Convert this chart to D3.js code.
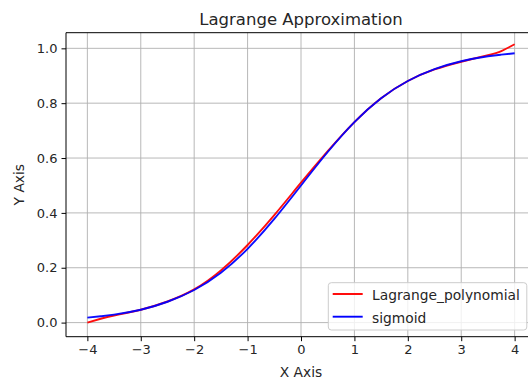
<!DOCTYPE html>
<html>
<head>
<meta charset="utf-8">
<script src="https://cdn.jsdelivr.net/npm/d3@7"></script>
<style>
  html, body { margin: 0; padding: 0; background: #fff; }
  svg { display: block; font-family: "DejaVu Sans", sans-serif; }
</style>
</head>
<body>
<svg id="chart" width="528" height="379"></svg>
<script>
// Sample points along x
const xs = [-4, -3.75, -3.5, -3, -2.5, -2, -1.5, -1, -0.5, 0, 0.5, 1, 1.5, 2, 2.5, 3, 3.5, 3.75, 4];
// Interpolating polynomial values
const lagrangeValues = [0.000, 0.014, 0.026, 0.047, 0.077, 0.121, 0.190, 0.283, 0.392, 0.510, 0.625, 0.731, 0.818, 0.881, 0.923, 0.951, 0.975, 0.990, 1.015];
// Sigmoid values
const sigmoidValues = [0.018, 0.023, 0.029, 0.047, 0.076, 0.119, 0.182, 0.269, 0.378, 0.500, 0.622, 0.731, 0.818, 0.881, 0.924, 0.953, 0.971, 0.977, 0.982];
const xTicks = [-4, -3, -2, -1, 0, 1, 2, 3, 4];
const yTicks = [0.0, 0.2, 0.4, 0.6, 0.8, 1.0];
const seriesNames = ["Lagrange_polynomial", "sigmoid"];
const seriesColors = ["#ff0000", "#0000ff"];

const svg = d3.select("#chart");
const plotLeft = 66, plotRight = 536, plotTop = 32.7, plotBottom = 336.7;

const x = d3.scaleLinear().domain([-4.4, 4.4]).range([plotLeft, plotRight]);
const y = d3.scaleLinear().domain([-0.0514, 1.057]).range([plotBottom, plotTop]);

// Grid
const grid = svg.append("g");
grid.selectAll("line.vx").data(xTicks).enter().append("line")
  .attr("x1", d => x(d)).attr("x2", d => x(d))
  .attr("y1", plotTop).attr("y2", plotBottom)
  .attr("stroke", "#b0b0b0").attr("stroke-width", 0.9);
grid.selectAll("line.hy").data(yTicks).enter().append("line")
  .attr("x1", plotLeft).attr("x2", plotRight)
  .attr("y1", d => y(d)).attr("y2", d => y(d))
  .attr("stroke", "#b0b0b0").attr("stroke-width", 0.9);

// Curves
const series = [lagrangeValues, sigmoidValues];
const line = d3.line()
  .x((d, i) => x(xs[i]))
  .y(d => y(d))
  .curve(d3.curveNatural);
series.forEach((vals, k) => {
  svg.append("path")
    .datum(vals)
    .attr("d", line)
    .attr("fill", "none")
    .attr("stroke", seriesColors[k])
    .attr("stroke-width", 1.9)
    .attr("opacity", 0.95);
});

// Axes
const xAxis = d3.axisBottom(x).tickValues(xTicks).tickSize(4.5).tickPadding(4)
  .tickFormat(d => d3.format("")(d).replace("-", "\u2212"));
const gx = svg.append("g").attr("transform", `translate(0,${plotBottom})`).call(xAxis);
const yAxis = d3.axisLeft(y).tickValues(yTicks).tickSize(4.5).tickPadding(4)
  .tickFormat(d3.format(".1f"));
const gy = svg.append("g").attr("transform", `translate(${plotLeft},0)`).call(yAxis);
[gx, gy].forEach(g => {
  g.select(".domain").remove();
  g.selectAll(".tick line").attr("stroke", "#000").attr("stroke-width", 1);
  g.selectAll(".tick text").attr("fill", "#262626")
    .style("font-family", "DejaVu Sans").style("font-size", "13px");
});

// Spines
svg.append("path")
  .attr("d", `M${plotRight},${plotTop}H${plotLeft}V${plotBottom}H${plotRight}`)
  .attr("fill", "none").attr("stroke", "#000").attr("stroke-width", 1);

// Title and axis labels
svg.append("text").attr("x", (plotLeft + plotRight) / 2).attr("y", 24.5)
  .attr("text-anchor", "middle").style("font-size", "16.5px").attr("fill", "#262626")
  .text("Lagrange Approximation");
svg.append("text").attr("x", (plotLeft + plotRight) / 2).attr("y", 376.5)
  .attr("text-anchor", "middle").style("font-size", "13.8px").attr("fill", "#262626")
  .text("X Axis");
svg.append("text")
  .attr("transform", `translate(23.5,${(plotTop + plotBottom) / 2}) rotate(-90)`)
  .attr("text-anchor", "middle").style("font-size", "13.8px").attr("fill", "#262626")
  .text("Y Axis");

// Legend
const lg = svg.append("g");
lg.append("rect")
  .attr("x", 328.3).attr("y", 282.7).attr("width", 198.5).attr("height", 47.3)
  .attr("rx", 3).attr("ry", 3)
  .attr("fill", "#fff").attr("fill-opacity", 0.8)
  .attr("stroke", "#cccccc").attr("stroke-width", 1);
const rows = [294, 316.7];
seriesNames.forEach((name, k) => {
  lg.append("line")
    .attr("x1", 332.7).attr("x2", 362.7)
    .attr("y1", rows[k]).attr("y2", rows[k])
    .attr("stroke", seriesColors[k]).attr("stroke-width", 1.9);
  lg.append("text")
    .attr("x", 372).attr("y", rows[k] + 6)
    .style("font-size", "13.8px").attr("fill", "#262626")
    .text(name);
});
</script>
</body>
</html>
